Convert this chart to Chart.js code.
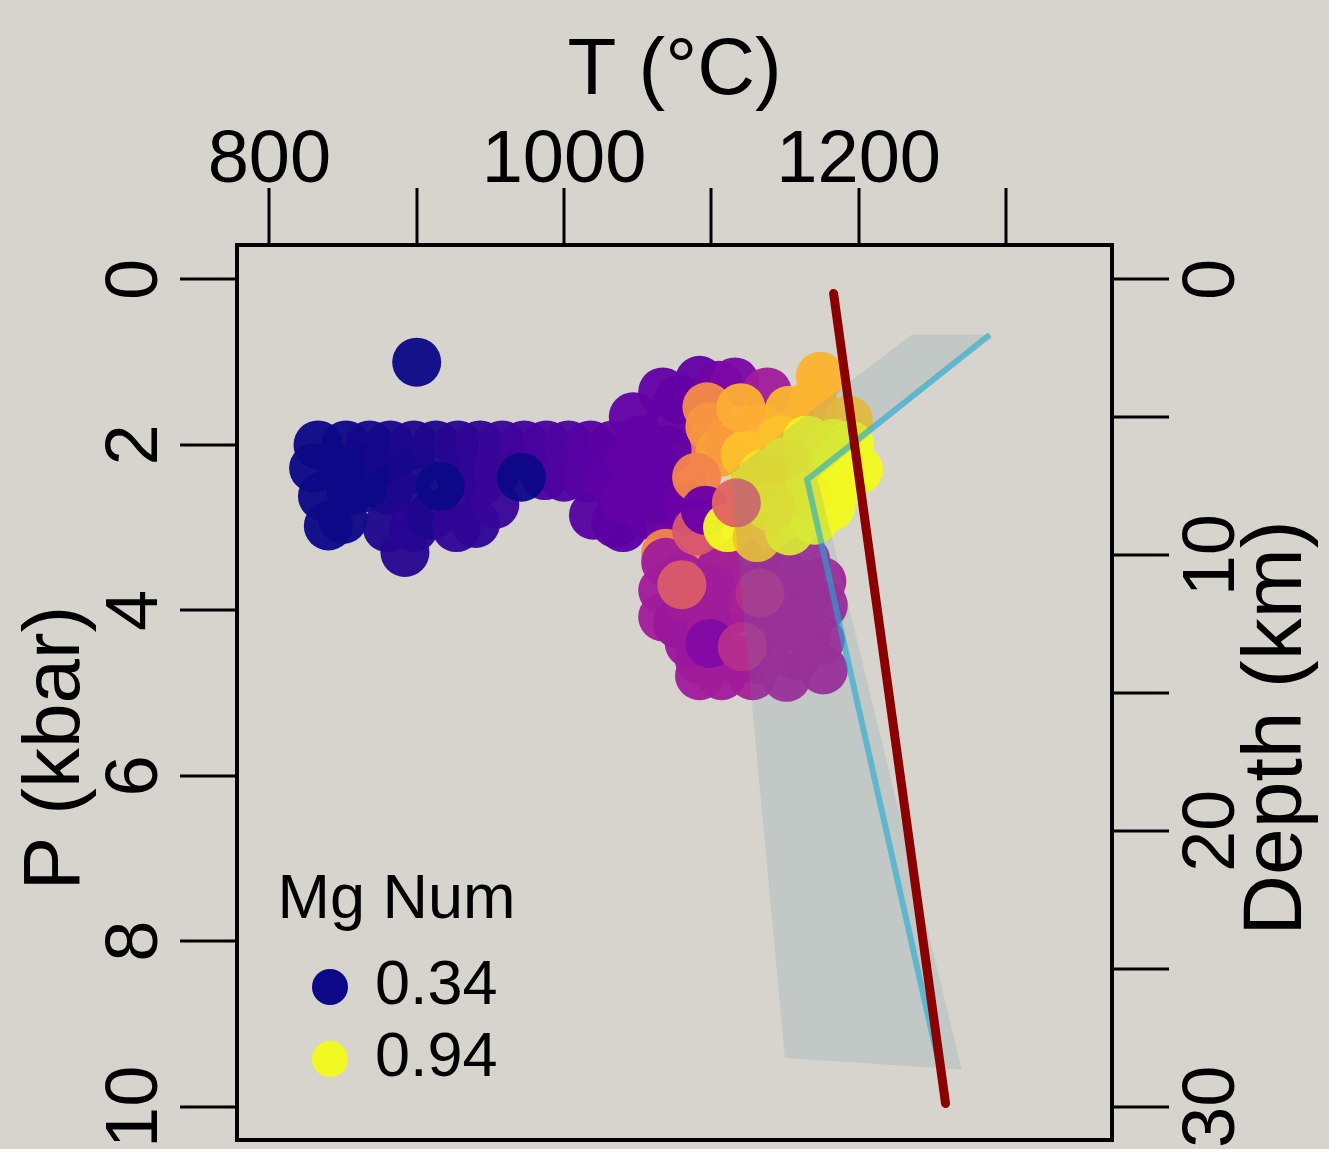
<!DOCTYPE html>
<html>
<head>
<meta charset="utf-8">
<script src="https://cdn.jsdelivr.net/npm/chart.js"></script>
<style>
html,body{margin:0;padding:0;background:#d7d3cd;overflow:hidden}
canvas{display:block}
</style>
</head>
<body>
<canvas id="c" width="1329" height="1149"></canvas>
<script>
// ---------------- data ----------------
const tempC = [
  900,
  // left cluster
  833, 830, 836, 840,
  852, 850, 855, 850,
  868, 866, 864,
  882, 880, 881, 880,
  898, 897, 895, 898, 892,
  913, 910,
  928, 929, 927, 927,
  943, 943, 940,
  958, 955, 953,
  973,
  988, 987,
  1003, 1000,
  1018, 1015, 1020,
  1033, 1030, 1035,
  1042, 1040, 1040,
  916, 971,
  // right cluster, behind
  1072, 1085, 1080,
  1047, 1067, 1092, 1052, 1070, 1055, 1033, 1041, 1058, 1079, 1072, 1045, 1062, 1078, 1065, 1085,
  1105, 1116, 1138,
  // lower cluster
  1141, 1069, 1094,
  1069, 1067, 1067, 1077, 1085, 1106, 1113, 1147, 1164, 1176, 1160, 1165, 1174, 1133, 1176, 1151,
  1128, 1107, 1092, 1092, 1119,
  1085, 1100, 1117, 1140, 1152, 1158, 1140, 1122, 1100, 1080, 1128, 1160, 1175,
  1099, 1121, 1133, 1090, 1080,
  // upper oranges / golds
  1097, 1099, 1106, 1090, 1112,
  1133, 1153, 1174, 1169, 1193, 1147, 1123, 1120,
  1096,
  // yellows
  1165, 1183, 1194, 1200, 1187, 1181, 1145, 1169, 1126, 1151, 1111, 1131, 1153, 1170,
  1150, 1135, 1185, 1165, 1140,
  1117
];
const pressKbar = [
  1.00,
  2.00, 2.28, 2.62, 2.98,
  2.00, 2.30, 2.55, 2.90,
  2.00, 2.28, 2.52,
  2.00, 2.25, 2.55, 3.00,
  2.00, 2.30, 2.65, 3.00, 3.30,
  2.00, 2.85,
  2.00, 2.35, 2.70, 3.00,
  2.00, 2.45, 2.95,
  2.00, 2.30, 2.72,
  2.00,
  2.00, 2.37,
  2.00, 2.39,
  2.00, 2.40, 2.85,
  2.00, 2.40, 2.95,
  2.15, 2.65, 3.00,
  2.50, 2.39,
  2.87, 2.12, 2.45,
  1.66, 1.36, 1.22, 1.94, 2.06, 2.42, 2.46, 2.67, 2.85, 3.00, 1.70, 2.20, 2.25, 1.45, 2.65, 2.75,
  1.28, 1.24, 1.36,
  4.06, 3.31, 3.31,
  3.42, 3.76, 4.08, 4.16, 3.88, 3.51, 4.00, 3.51, 3.39, 3.94, 3.96, 4.28, 4.36, 4.60, 4.72, 4.81,
  4.79, 4.79, 4.60, 4.79, 3.39,
  4.40, 4.20, 4.60, 4.30, 4.15, 4.55, 3.60, 3.75, 3.75, 3.60, 3.95, 3.70, 3.65,
  4.40, 4.44, 3.79, 3.04, 3.69,
  1.54, 1.78, 2.09, 2.39, 1.95,
  1.80, 1.58, 1.17, 1.49, 1.70, 1.94, 2.12, 1.55,
  2.79,
  1.94, 1.98, 2.00, 2.30, 2.50, 2.75, 2.46, 2.34, 2.55, 2.82, 3.00, 3.12, 3.04, 2.91,
  2.20, 2.35, 2.20, 2.62, 2.75,
  2.70
];
const mgNum = [
  0.34,
  0.34, 0.34, 0.34, 0.34,
  0.34, 0.34, 0.34, 0.34,
  0.35, 0.34, 0.34,
  0.35, 0.35, 0.34, 0.36,
  0.36, 0.35, 0.36, 0.37, 0.37,
  0.36, 0.36,
  0.37, 0.37, 0.38, 0.38,
  0.38, 0.38, 0.38,
  0.39, 0.39, 0.39,
  0.40,
  0.41, 0.41,
  0.42, 0.42,
  0.43, 0.43, 0.43,
  0.44, 0.44, 0.44,
  0.44, 0.44, 0.44,
  0.34, 0.34,
  0.77, 0.73, 0.74,
  0.45, 0.45, 0.45, 0.45, 0.45, 0.45, 0.44, 0.45, 0.45, 0.47, 0.45, 0.45, 0.45, 0.45, 0.45, 0.46,
  0.47, 0.49, 0.55,
  0.94, 0.76, 0.76,
  0.55, 0.55, 0.55, 0.54, 0.55, 0.55, 0.53, 0.56, 0.56, 0.55, 0.56, 0.56, 0.56, 0.56, 0.56, 0.56,
  0.56, 0.55, 0.53, 0.55, 0.56,
  0.54, 0.55, 0.55, 0.56, 0.56, 0.56, 0.56, 0.56, 0.55, 0.55, 0.56, 0.56, 0.56,
  0.50, 0.59, 0.59, 0.67, 0.68,
  0.77, 0.79, 0.81, 0.76, 0.80,
  0.84, 0.84, 0.84, 0.84, 0.86, 0.86, 0.86, 0.83,
  0.46,
  0.93, 0.93, 0.94, 0.94, 0.94, 0.94, 0.92, 0.93, 0.91, 0.93, 0.94, 0.86, 0.93, 0.94,
  0.92, 0.91, 0.94, 0.93, 0.92,
  0.70
];
const redLineT = [1183, 1259];
const redLineP = [0.17, 9.96];
const blueLineT = [1289, 1165, 1255];
const blueLineP = [0.67, 2.42, 9.52];
const bandT = [1236, 1290, 1172, 1270, 1150, 1113];
const bandP = [0.67, 0.67, 2.40, 9.55, 9.41, 2.33];
const legendValues = [0.34, 0.94];
const tempTicks = [800, 900, 1000, 1100, 1200, 1300];
const tempTickLabels = [800, 1000, 1200];
const pressureTicks = [0, 2, 4, 6, 8, 10];
const pressureTickLabels = [0, 2, 4, 6, 8, 10];
const depthTicks = [0, 5, 10, 15, 20, 25, 30];
const depthTickLabels = [0, 10, 20, 30];

// ---------------- helpers ----------------
const PLASMA = [[13,8,135],[65,4,157],[106,0,168],[143,13,164],[177,42,144],[204,71,120],
                [225,100,98],[242,132,75],[252,166,54],[252,206,37],[240,249,33]];
const mgMin = Math.min(...legendValues), mgMax = Math.max(...legendValues);
function plasma(v, a) {
  let t = (v - mgMin) / (mgMax - mgMin);
  t = Math.max(0, Math.min(1, t));
  const s = t * 10, i = Math.min(9, Math.floor(s)), f = s - i;
  const c = PLASMA[i].map((ch, k) => Math.round(ch + (PLASMA[i + 1][k] - ch) * f));
  return 'rgba(' + c[0] + ',' + c[1] + ',' + c[2] + ',' + a + ')';
}
const toXY = (ts, ps) => ts.map((t, i) => ({x: t, y: ps[i]}));
const useTicks = list => s => { s.ticks = list.map(v => ({value: v})); };
function legendDot(color) {
  const c = document.createElement('canvas');
  c.width = 100; c.height = 40;
  const g = c.getContext('2d');
  g.fillStyle = color;
  g.beginPath(); g.arc(65, 20, 18, 0, Math.PI * 2); g.fill();
  return c;
}

Chart.defaults.font.family = '"Liberation Sans", Arial, Helvetica, sans-serif';
Chart.defaults.color = '#000';

const axisGrid = {display: true, drawOnChartArea: false, drawTicks: true, tickLength: 57,
                  tickWidth: 3, tickColor: '#000', lineWidth: 4};
const axisBorder = {display: true, width: 4, color: '#000'};
const tickFont = {size: 74, lineHeight: 1};

const framePlugin = {
  id: 'framePlugin',
  afterLayout(chart) {
    const lg = chart.legend, ca = chart.chartArea;
    if (lg) {
      lg.left = ca.left + 40.5;
      lg.width = 300;
      lg.right = lg.left + lg.width;
      lg.top = ca.top;
      lg.bottom = ca.top + 854.5;
      lg.height = lg.bottom - lg.top;
    }
  },
  afterDraw(chart) {
    const ctx = chart.ctx, s = chart.scales.y2;
    ctx.save();
    ctx.fillStyle = '#000';
    ctx.font = '84px "Liberation Sans", Arial, Helvetica, sans-serif';
    ctx.translate(s.right - 51, 728);
    ctx.rotate(-Math.PI / 2);
    ctx.textAlign = 'center';
    ctx.textBaseline = 'middle';
    ctx.fillText('Depth (km)', 0, 0);
    ctx.restore();
  }
};

new Chart(document.getElementById('c'), {
  type: 'scatter',
  data: {
    datasets: [
      {type: 'line', label: 'red', data: toXY(redLineT, redLineP), borderColor: '#8b0000',
       borderWidth: 9, borderCapStyle: 'round', pointRadius: 0, fill: false, order: 0,
       xAxisID: 'x', yAxisID: 'y'},
      {type: 'line', label: 'blue', data: toXY(blueLineT, blueLineP), borderColor: 'rgba(30,170,210,0.6)',
       borderWidth: 6, borderJoinStyle: 'miter', pointRadius: 0, fill: false, order: 1,
       xAxisID: 'x', yAxisID: 'y'},
      {type: 'line', label: 'band', data: toXY(bandT, bandP), borderColor: 'rgba(0,0,0,0)',
       borderWidth: 0, backgroundColor: 'rgba(80,140,160,0.16)', pointRadius: 0, fill: 'shape', order: 2,
       xAxisID: 'x', yAxisID: 'y'},
      {type: 'scatter', label: 'Mg Num', data: toXY(tempC, pressKbar),
       pointRadius: 24.5, pointHoverRadius: 24.5, pointBorderWidth: 0,
       pointBackgroundColor: mgNum.map(m => plasma(m, 0.96)), order: 3,
       xAxisID: 'x', yAxisID: 'y'}
    ]
  },
  options: {
    responsive: false,
    animation: false,
    devicePixelRatio: 1,
    events: [],
    layout: {padding: 0, autoPadding: false},
    scales: {
      x: {
        type: 'linear', position: 'top', min: 778, max: 1372,
        grid: axisGrid, border: axisBorder,
        afterBuildTicks: useTicks(tempTicks),
        ticks: {autoSkip: false, maxRotation: 0, minRotation: 0,
                padding: -11, font: tickFont, color: '#000',
                callback: v => tempTickLabels.includes(v) ? String(v) : ''},
        title: {display: true, text: 'T (°C)', color: '#000', font: {size: 80, lineHeight: 1},
                padding: {top: 32, bottom: 0}},
        afterFit: s => { s.height = 245; s.paddingLeft = 0; s.paddingRight = 0; }
      },
      x2: {
        type: 'linear', position: 'bottom', min: 778, max: 1372,
        grid: {display: true, drawOnChartArea: false, drawTicks: false, lineWidth: 4},
        border: axisBorder,
        ticks: {display: false},
        afterFit: s => { s.height = 9; s.paddingLeft = 0; s.paddingRight = 0; }
      },
      y: {
        type: 'linear', position: 'left', reverse: true, min: -0.416, max: 10.402,
        grid: axisGrid, border: axisBorder,
        afterBuildTicks: useTicks(pressureTicks),
        ticks: {autoSkip: false, minRotation: 90, maxRotation: 90,
                crossAlign: 'center', padding: 2, font: tickFont, color: '#000',
                callback: v => pressureTickLabels.includes(v) ? String(v) : ''},
        title: {display: true, text: 'P (kbar)\u00a0\u00a0\u00a0\u00a0\u00a0', color: '#000',
                font: {size: 80, lineHeight: 1}, padding: {top: 17, bottom: 0}},
        afterFit: s => { s.width = 237; s.paddingTop = 0; s.paddingBottom = 0; }
      },
      y2: {
        type: 'linear', position: 'right', reverse: true, min: -1.248, max: 31.206,
        grid: axisGrid, border: axisBorder,
        afterBuildTicks: useTicks(depthTicks),
        ticks: {autoSkip: false, minRotation: 90, maxRotation: 90,
                crossAlign: 'center', padding: 3, font: tickFont, color: '#000',
                callback: v => depthTickLabels.includes(v) ? String(v) : ''},
        afterFit: s => { s.width = 217; s.paddingTop = 0; s.paddingBottom = 0; }
      }
    },
    plugins: {
      tooltip: {enabled: false},
      legend: {
        display: true, position: 'chartArea', align: 'end',
        title: {display: true, text: 'Mg Num', position: 'start', color: '#000',
                font: {size: 63, lineHeight: 1.2}, padding: {top: 0, bottom: 1.4}},
        labels: {
          usePointStyle: true, boxWidth: 57, padding: 9, color: '#000',
          font: {size: 63},
          generateLabels: () => legendValues.map(v => ({
            text: v.toFixed(2), fillStyle: plasma(v, 1), strokeStyle: 'rgba(0,0,0,0)',
            lineWidth: 0, pointStyle: legendDot(plasma(v, 1)), hidden: false, fontColor: '#000'
          }))
        }
      }
    }
  },
  plugins: [framePlugin]
});
</script>
</body>
</html>
